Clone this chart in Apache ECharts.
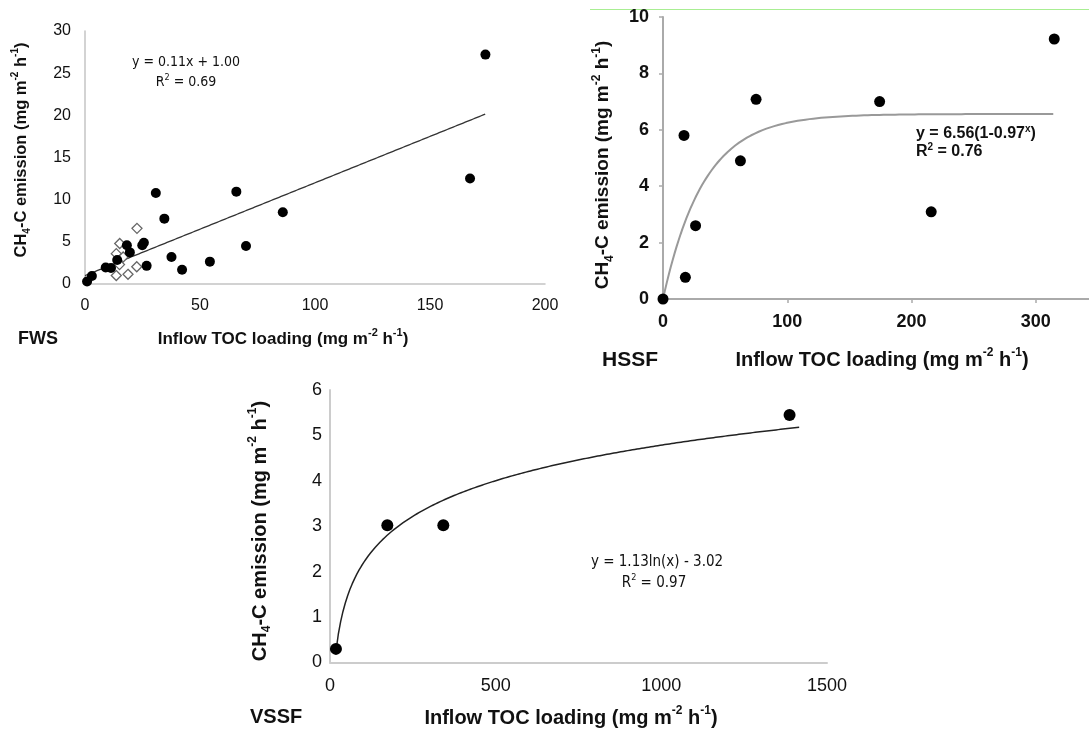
<!DOCTYPE html>
<html>
<head>
<meta charset="utf-8">
<script src="https://cdn.jsdelivr.net/npm/echarts@6/dist/echarts.min.js"></script>
<style>
html, body { margin: 0; padding: 0; background: #fff; }
#main { width: 1089px; height: 729px; }
</style>
</head>
<body>
<div id="main"></div>
<script>
// FWS: inflow TOC loading vs CH4-C emission
const fwsFilled = [
    [0.9, 0.3], [3.0, 0.95], [9.0, 1.95], [11.3, 1.9], [14.0, 2.85], [18.2, 4.6],
    [19.5, 3.75], [24.9, 4.6], [25.6, 4.9], [26.8, 2.15], [30.8, 10.8], [34.5, 7.75],
    [37.6, 3.2], [42.2, 1.7], [54.3, 2.65], [65.8, 10.95], [70.0, 4.5], [86.0, 8.5],
    [167.4, 12.5], [174.1, 27.2]
]
const fwsOpen = [
    [22.6, 6.6], [15.1, 4.8], [13.6, 3.6], [16.6, 3.2], [15.0, 2.3], [13.6, 1.0],
    [18.7, 1.15], [22.5, 2.05]
]
const fwsFit = [0.11, 1.00]          // y = a*x + b
const fwsFitRange = [0, 174]

// HSSF
const hssfPoints = [
    [0, 0], [16.9, 5.8], [18, 0.77], [26.2, 2.6], [62.3, 4.9], [74.9, 7.08],
    [174.3, 7.0], [215.8, 3.09], [314.8, 9.22]
]
const hssfFit = [6.56, 0.97]         // y = a*(1 - b^x)
const hssfFitRange = [0, 314]

// VSSF
const vssfPoints = [[18, 0.3], [173, 3.02], [342, 3.02], [1387, 5.45]]
const vssfFit = [1.13, -3.02]        // y = a*ln(x) + b
const vssfFitRange = [18, 1416]

// tick settings per panel: min, max, interval
const fwsXTicks = [0, 200, 50]
const fwsYTicks = [0, 30, 5]
const hssfXTicks = [0, 350, 100]
const hssfYTicks = [0, 10, 2]
const vssfXTicks = [0, 1500, 500]
const vssfYTicks = [0, 6, 1]

function sample(range, fn) {
    let out = []
    let n = 200
    for (let i = 0; i <= n; i++) {
        let x = range[0] + (range[1] - range[0]) * i / n
        out.push([x, fn(x)])
    }
    return out
}

const fwsLine = sample(fwsFitRange, x => fwsFit[0] * x + fwsFit[1])
const hssfLine = sample(hssfFitRange, x => hssfFit[0] * (1 - Math.pow(hssfFit[1], x)))
const vssfLine = sample(vssfFitRange, x => vssfFit[0] * Math.log(x) + vssfFit[1])

const ARIAL = "'Liberation Sans', Arial, sans-serif"
const NARROW = "'Liberation Sans Narrow', 'DejaVu Sans Condensed', sans-serif"

function axis(idx, ticks, opts, margin) {
    return {
        type: 'value', gridIndex: idx, min: ticks[0], max: ticks[1], interval: ticks[2],
        splitLine: {show: false},
        axisLine: {show: true, lineStyle: {color: opts.axisColor, width: opts.axisWidth}},
        axisTick: {show: !!opts.ticks, length: 4, lineStyle: {color: opts.axisColor, width: 1.5}},
        axisLabel: {
            color: '#111', fontFamily: ARIAL, fontSize: opts.fontSize,
            fontWeight: opts.bold ? 'bold' : 'normal', margin: margin,
            showMaxLabel: ticks[1] % ticks[2] === 0,
            formatter: v => (v % ticks[2] === 0 ? String(v) : '')
        }
    }
}

function richStyle(size) {
    let small = Math.round(size * 0.62)
    return {
        fontFamily: ARIAL, fontWeight: 'bold', fontSize: size, fill: '#111',
        lineHeight: size + 6,
        rich: {
            sup: {fontFamily: ARIAL, fontWeight: 'bold', fontSize: small, lineHeight: Math.round(size * 0.8), verticalAlign: 'top', fill: '#111'},
            sub: {fontFamily: ARIAL, fontWeight: 'bold', fontSize: small, lineHeight: Math.round(size * 0.8), verticalAlign: 'bottom', fill: '#111'}
        }
    }
}

function label(text, x, y, size, rotate, align) {
    let st = richStyle(size)
    st.text = text
    st.align = align || 'center'
    st.textAlign = align || 'center'
    st.verticalAlign = 'middle'
    st.textVerticalAlign = 'middle'
    return {type: 'text', x: x, y: y, rotation: rotate ? Math.PI / 2 : 0, style: st, z: 10}
}

function plain(text, x, y, font, size, weight, align) {
    return {
        type: 'text', x: x, y: y, z: 10,
        style: {
            text: text, fontFamily: font, fontSize: size, fontWeight: weight || 'normal', fill: '#111',
            align: align || 'center', textAlign: align || 'center',
            verticalAlign: 'middle', textVerticalAlign: 'middle',
            rich: {
                sup: {fontFamily: font, fontSize: Math.round(size * 0.62), lineHeight: Math.round(size * 0.8), verticalAlign: 'top', fontWeight: weight || 'normal', fill: '#111'}
            },
            lineHeight: size + 4
        }
    }
}

const yTitle = 'CH{sub|4}-C emission (mg m{sup|-2} h{sup|-1})'
const xTitle = 'Inflow TOC loading (mg m{sup|-2} h{sup|-1})'

const fwsOpt = {axisColor: '#c4c4c4', axisWidth: 1.5, fontSize: 16}
const hssfOpt = {axisColor: '#aaaaaa', axisWidth: 2, fontSize: 18, bold: true, ticks: true}
const vssfOpt = {axisColor: '#cccccc', axisWidth: 2, fontSize: 18}

let chart = echarts.init(document.getElementById('main'))
chart.setOption({
    backgroundColor: '#fff',
    animation: false,
    grid: [
        {left: 85, top: 31, width: 460, height: 253, outerBoundsMode: 'none'},
        {left: 663, top: 17, width: 435, height: 282, outerBoundsMode: 'none'},
        {left: 330, top: 390, width: 497, height: 272.5, outerBoundsMode: 'none'}
    ],
    xAxis: [
        axis(0, fwsXTicks, fwsOpt, 14),
        axis(1, hssfXTicks, hssfOpt, 14),
        axis(2, vssfXTicks, vssfOpt, 15)
    ],
    yAxis: [
        axis(0, fwsYTicks, fwsOpt, 14),
        axis(1, hssfYTicks, hssfOpt, 14),
        axis(2, vssfYTicks, vssfOpt, 8)
    ],
    series: [
        {
            name: 'FWS fit', type: 'line', xAxisIndex: 0, yAxisIndex: 0, data: fwsLine,
            showSymbol: false, lineStyle: {color: '#333', width: 1.3}, z: 1
        },
        {
            name: 'FWS', type: 'scatter', xAxisIndex: 0, yAxisIndex: 0, data: fwsFilled,
            symbol: 'circle', symbolSize: 10, itemStyle: {color: '#000', opacity: 1}, z: 3
        },
        {
            name: 'FWS open', type: 'scatter', xAxisIndex: 0, yAxisIndex: 0, data: fwsOpen,
            symbol: 'diamond', symbolSize: 10,
            itemStyle: {color: '#fff', borderColor: '#666', borderWidth: 1.3, opacity: 1}, z: 2
        },
        {
            name: 'HSSF fit', type: 'line', xAxisIndex: 1, yAxisIndex: 1, data: hssfLine,
            showSymbol: false, lineStyle: {color: '#999', width: 2}, z: 1
        },
        {
            name: 'HSSF', type: 'scatter', xAxisIndex: 1, yAxisIndex: 1, data: hssfPoints,
            symbol: 'circle', symbolSize: 11, itemStyle: {color: '#000', opacity: 1}, z: 3
        },
        {
            name: 'VSSF fit', type: 'line', xAxisIndex: 2, yAxisIndex: 2, data: vssfLine,
            showSymbol: false, lineStyle: {color: '#222', width: 1.5}, z: 1
        },
        {
            name: 'VSSF', type: 'scatter', xAxisIndex: 2, yAxisIndex: 2, data: vssfPoints,
            symbol: 'circle', symbolSize: 12, itemStyle: {color: '#000', opacity: 1}, z: 3
        }
    ],
    graphic: [
        // thin green line at the top of the HSSF panel
        {type: 'line', shape: {x1: 590, y1: 9.5, x2: 1089, y2: 9.5}, style: {stroke: '#a8ee92', lineWidth: 1}},

        // FWS
        label(yTitle, 21, 150, 16.5, true),
        label(xTitle, 283, 339, 17, false),
        label('FWS', 18, 339, 18, false, 'left'),
        plain('y = 0.11x + 1.00', 186, 62, NARROW, 14),
        plain('R{sup|2} = 0.69', 186, 82, NARROW, 14),

        // HSSF
        label(yTitle, 603, 165, 19, true),
        label(xTitle, 882, 360, 20, false),
        label('HSSF', 602, 360, 21, false, 'left'),
        plain('y = 6.56(1-0.97{sup|x})', 916, 134, ARIAL, 16, 'bold', 'left'),
        plain('R{sup|2} = 0.76', 916, 152, ARIAL, 16, 'bold', 'left'),

        // VSSF
        label(yTitle, 260, 531, 20, true),
        label(xTitle, 571, 718, 20, false),
        label('VSSF', 250, 717, 20, false, 'left'),
        plain('y = 1.13ln(x) - 3.02', 657, 562, NARROW, 15),
        plain('R{sup|2} = 0.97', 654, 583, NARROW, 15)
    ]
})
</script>
</body>
</html>
